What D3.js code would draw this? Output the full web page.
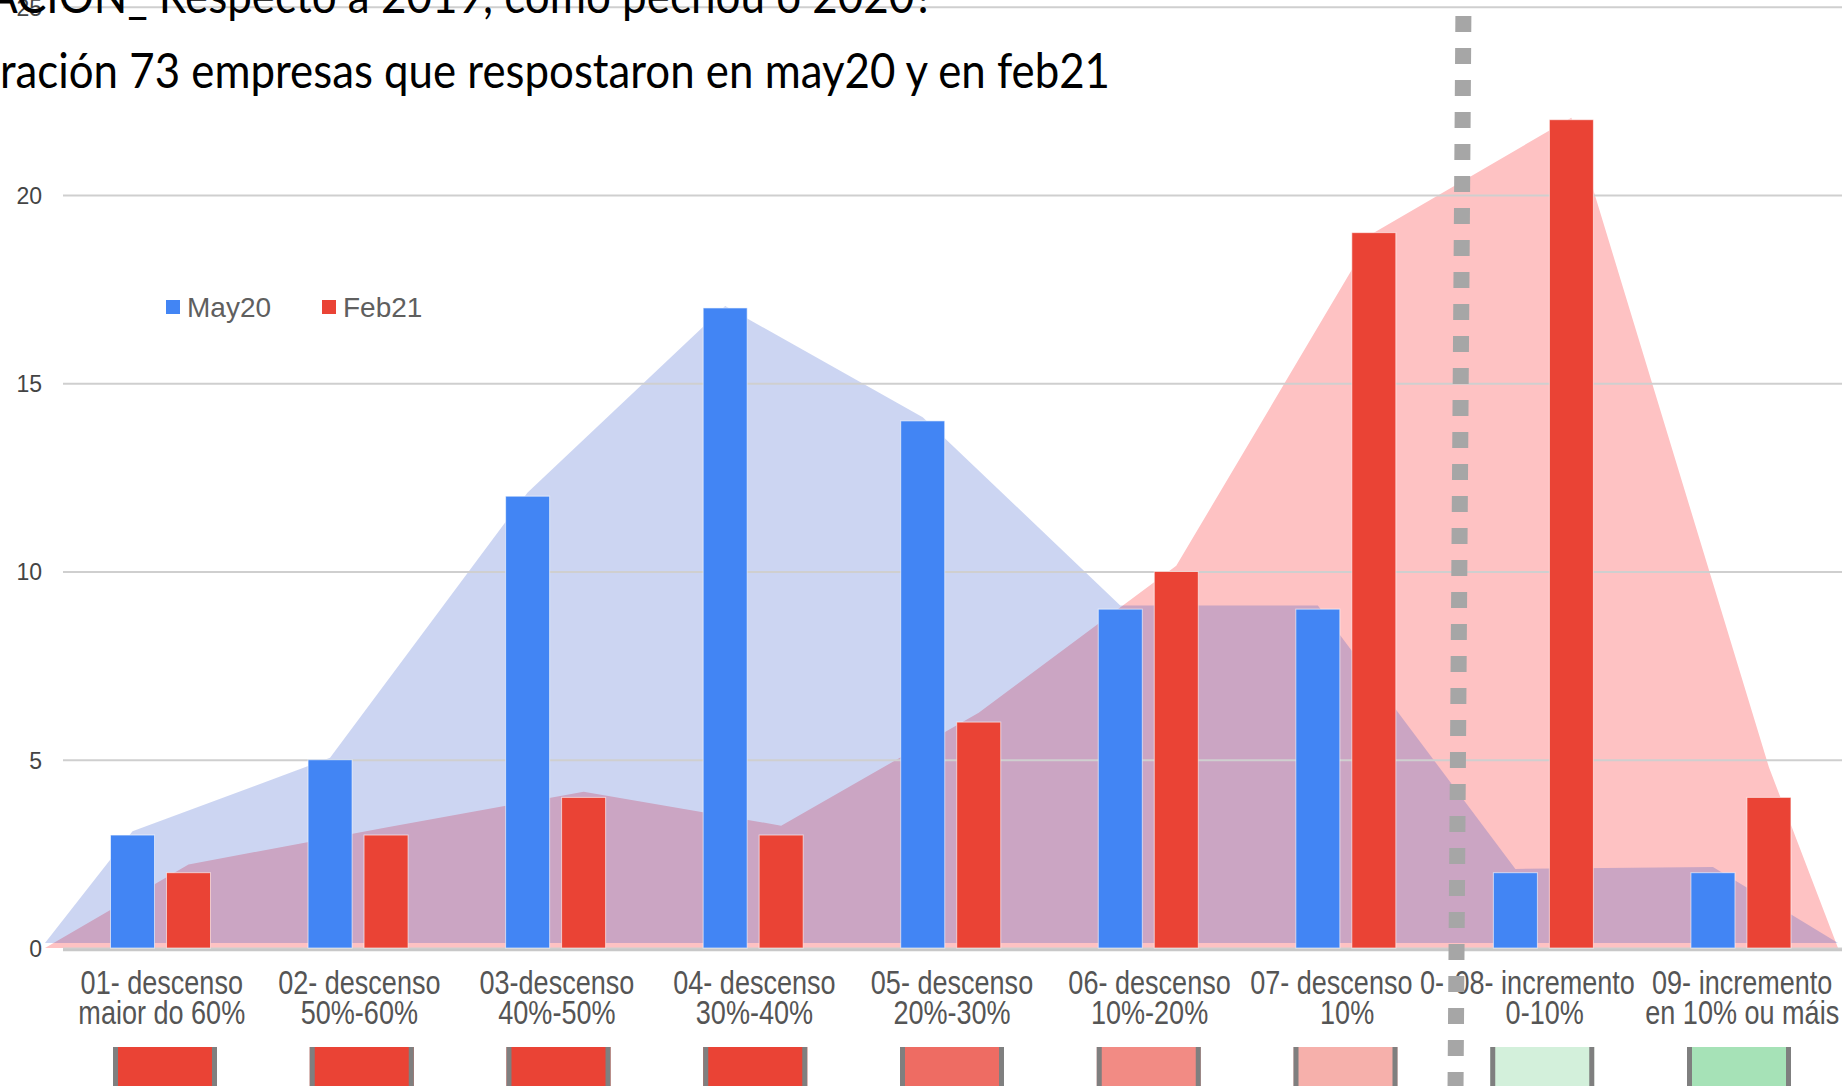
<!DOCTYPE html>
<html>
<head>
<meta charset="utf-8">
<script src="https://cdn.jsdelivr.net/npm/d3@7"></script>
<style>
  html, body { margin: 0; padding: 0; background: #fff; overflow: hidden; }
  svg { display: block; }
</style>
</head>
<body>
<svg id="chart" width="1842" height="1086"></svg>
<script>
// ---- data ----
const categories = ["01", "02", "03", "04", "05", "06", "07", "08", "09"];
const categoryLabels = [
  ["01- descenso", "maior do 60%"],
  ["02- descenso", "50%-60%"],
  ["03-descenso", "40%-50%"],
  ["04- descenso", "30%-40%"],
  ["05- descenso", "20%-30%"],
  ["06- descenso", "10%-20%"],
  ["07- descenso 0-", "10%"],
  ["08- incremento", "0-10%"],
  ["09- incremento", "en 10% ou máis"]
];
const series = ["May20", "Feb21"];
const may20 = [3, 5, 12, 17, 14, 9, 9, 2, 2];
const feb21 = [2, 3, 4, 3, 6, 10, 19, 22, 4];
// hand-traced outline shapes behind each series
const may20Outline = [3.1, 5.05, 12.1, 17.05, 14.1, 9.1, 9.1, 2.1, 2.15];
const feb21Outline = [2.22, 3.2, 4.15, 3.25, 6.25, 10.15, 19.0, 22.05, 4.8];
const yTicks = [0, 5, 10, 15, 20, 25];
const titleLines = [
  "ACIÓN_ Respecto a 2019, como pechou o 2020?",
  "ración 73 empresas que respostaron en may20 y en feb21"
];
const bandSwatches = ["#EA4335", "#EA4335", "#EA4335", "#EA4335", "#EE6C63",
                      "#F28B84", "#F6B0AB", "#D3F0DB", "#A6E2B7"];

// ---- layout ----
const W = 1842, H = 1086;
const plotLeft = 63, plotRight = 1841;
const svg = d3.select("#chart");

const x0 = d3.scaleBand().domain(categories).range([plotLeft, plotRight]).padding(0);
const x1 = d3.scaleBand().domain(series).range([47.5, 147.5]).paddingInner(0.214);
const y = d3.scaleLinear().domain([0, 25]).range([948, 6.75]);
// swatch row sits on its own slightly tighter spacing
const xSwatch = d3.scalePoint().domain(categories).range([165, 1739]);

const seriesColor = { May20: "#4285F4", Feb21: "#EA4335" };
const centerOf = (i, s) => x0(categories[i]) + x1(s) + x1.bandwidth() / 2;
const bandMid = c => x0(c) + x0.bandwidth() / 2;

// ---- outline areas ----
const areaStart = plotLeft - 18, areaEnd = plotRight - 3;

const febPts = [{ x: areaStart, v: 0 }]
  .concat(feb21Outline.map((v, i) => ({ x: centerOf(i, "Feb21"), v })))
  .concat([{ x: areaEnd, v: 0 }]);
const mayBase = 0.13;
const mayPts = [{ x: areaStart, v: mayBase }]
  .concat(may20Outline.map((v, i) => ({ x: centerOf(i, "May20"), v })))
  .concat([{ x: areaEnd, v: mayBase }]);

svg.append("path")
  .datum(febPts)
  .attr("fill", "#FEC2C3")
  .attr("d", d3.area().x(d => d.x).y0(y(0)).y1(d => y(d.v)));

svg.append("path")
  .datum(mayPts)
  .attr("fill", "rgb(23,64,196)")
  .attr("fill-opacity", 0.22)
  .attr("d", d3.area().x(d => d.x).y0(y(mayBase)).y1(d => y(d.v)));

// ---- gridlines ----
const yAxis = d3.axisLeft(y).tickValues(yTicks).tickSize(-(W - plotLeft)).tickFormat(d => d);
const gy = svg.append("g").attr("transform", `translate(${plotLeft},0)`).call(yAxis);
gy.select(".domain").remove();
gy.selectAll(".tick line")
  .attr("stroke", "#cfcfcf")
  .attr("stroke-width", 2);
gy.selectAll(".tick text")
  .attr("x", 42 - plotLeft)
  .attr("dy", "0.36em")
  .attr("fill", "#444")
  .style("font-family", "'Liberation Sans', Arial, sans-serif")
  .style("font-size", "23px");

// baseline
svg.append("line")
  .attr("x1", plotLeft).attr("x2", W)
  .attr("y1", y(0) + 2).attr("y2", y(0) + 2)
  .attr("stroke", "#c8c8c8").attr("stroke-width", 2.5);

// ---- bars ----
const rows = categories.map((c, i) => ({ c, May20: may20[i], Feb21: feb21[i] }));
svg.append("g")
  .selectAll("g")
  .data(rows)
  .join("g")
  .attr("transform", d => `translate(${x0(d.c)},0)`)
  .selectAll("rect")
  .data(d => series.map(s => ({ s, v: d[s] })))
  .join("rect")
  .attr("x", d => x1(d.s))
  .attr("width", x1.bandwidth())
  .attr("y", d => y(d.v))
  .attr("height", d => y(0) - y(d.v))
  .attr("fill", d => seriesColor[d.s])
  .attr("stroke", "#ffffff")
  .attr("stroke-opacity", 0.6)
  .attr("stroke-width", 1);

// ---- category labels (condensed two-line text) ----
const xl = svg.append("g")
  .selectAll("text")
  .data(categories)
  .join("text")
  .attr("transform", d => `translate(${bandMid(d)},994) scale(0.82,1)`)
  .attr("text-anchor", "middle")
  .attr("fill", "#555")
  .style("font-family", "'Liberation Sans', Arial, sans-serif")
  .style("font-size", "33px");
xl.selectAll("tspan")
  .data((d, i) => categoryLabels[i].map((t, k) => ({ t, k })))
  .join("tspan")
  .attr("x", 0)
  .attr("dy", d => d.k === 0 ? 0 : 30.5)
  .text(d => d.t);

// ---- colour swatches under each category ----
const swW = 104, swTop = 1047;
const sw = svg.append("g")
  .selectAll("g")
  .data(categories)
  .join("g")
  .attr("transform", d => `translate(${xSwatch(d) - swW / 2},${swTop})`);
sw.append("rect")
  .attr("width", swW).attr("height", 60)
  .attr("fill", (d, i) => bandSwatches[i]);
sw.append("rect").attr("width", 5).attr("height", 60).attr("fill", "#7f7f7f");
sw.append("rect").attr("x", swW - 5).attr("width", 5).attr("height", 60).attr("fill", "#7f7f7f");

// ---- legend ----
const legend = svg.append("g")
  .selectAll("g")
  .data(series)
  .join("g")
  .attr("transform", (d, i) => `translate(${166 + i * 156},300)`);
legend.append("rect")
  .attr("width", 14).attr("height", 14)
  .attr("fill", d => seriesColor[d]);
legend.append("text")
  .attr("x", 21).attr("y", 17)
  .attr("fill", "#5f5f5f")
  .style("font-family", "'Liberation Sans', Arial, sans-serif")
  .style("font-size", "28px")
  .text(d => d);

// ---- title ----
const titleSpec = [
  { x: -12, y: 13, len: 946 },
  { x: 0, y: 88, len: 1110 }
];
svg.append("g")
  .selectAll("text")
  .data(titleLines)
  .join("text")
  .attr("x", (d, i) => titleSpec[i].x)
  .attr("y", (d, i) => titleSpec[i].y)
  .attr("textLength", (d, i) => titleSpec[i].len)
  .attr("lengthAdjust", "spacingAndGlyphs")
  .attr("fill", "#000")
  .style("font-family", "Lato, 'Open Sans', sans-serif")
  .style("font-size", "48px")
  .text(d => d);

// ---- separator between decrease and increase ----
const sepX = x0(categories[7]) + 17.5;
svg.append("line")
  .attr("x1", sepX).attr("y1", 16)
  .attr("x2", sepX - 8).attr("y2", H + 20)
  .attr("stroke", "#a6a6a6")
  .attr("stroke-width", 16)
  .attr("stroke-dasharray", "16 16");
</script>
</body>
</html>
